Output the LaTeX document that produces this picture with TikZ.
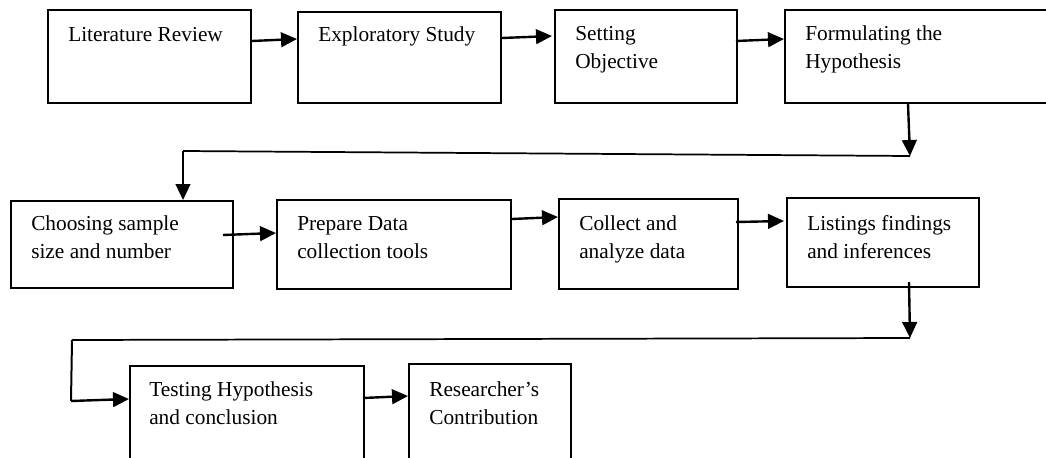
\documentclass[tikz,border=0pt]{standalone}
\usepackage{fontspec}
\setmainfont{Liberation Serif}
\usetikzlibrary{arrows.meta,calc,fit}

\begin{document}
\begin{tikzpicture}[x=0.75pt,y=-0.75pt,
  box/.style={draw,line width=1.5pt,inner sep=0pt,fit={#1}},
  txt/.style={anchor=base west,inner sep=0pt,align=left,
    font=\fontsize{16pt}{21pt}\selectfont},
  arr/.style={line width=1.8pt,-{Triangle[length=12pt,width=11pt]}},
  link/.style={line width=1.3pt}]
\useasboundingbox (0,0) rectangle (1046,457);
\clip (0,0) rectangle (1046,457);

% first row
\node[box={(48,10) (251,103)}]   (b1) {};
\node[box={(298,12) (501,103)}]  (b2) {};
\node[box={(555,10) (737,103)}]  (b3) {};
\node[box={(785,10) (1070,103)}] (b4) {};
% second row
\node[box={(11,201) (233,288)}]  (b5) {};
\node[box={(277,200) (511,289)}] (b6) {};
\node[box={(559,199) (738,289)}] (b7) {};
\node[box={(787,198) (979,287)}] (b8) {};
% third row
\node[box={(130,366) (364,480)}] (b9) {};
\node[box={(409,364) (571,480)}] (b10) {};

% labels (two-line labels sit on the baseline of their second line)
\node[txt] (t1) at ($(b1.north west)+(21,32)$) {Literature Review};
\node[txt] (t2) at ($(b2.north west)+(21,30)$) {Exploratory Study};
\node[txt] (t3) at ($(b3.north west)+(21,59)$) {Setting\\Objective};
\node[txt] (t4) at ($(b4.north west)+(21,59)$) {Formulating the\\Hypothesis};
\node[txt] (t5) at ($(b5.north west)+(21,58)$) {Choosing sample\\size and number};
\node[txt] (t6) at ($(b6.north west)+(21,59)$) {Prepare Data\\collection tools};
\node[txt] (t7) at ($(b7.north west)+(21,60)$) {Collect and\\analyze data};
\node[txt] (t8) at ($(b8.north west)+(21,61)$) {Listings findings\\and inferences};
\node[txt] (t9) at ($(b9.north west)+(20,59)$) {Testing Hypothesis\\and conclusion};
\node[txt] (t10) at ($(b10.north west)+(21,61)$) {Researcher’s\\Contribution};

% first row arrows
\draw[arr] ($(b1.north east)+(0,32)$) -- ($(b2.north west)+(0,28)$);
\draw[arr] ($(b2.north east)+(0,27)$) -- ($(b3.north west)+(-2,27)$);
\draw[arr] ($(b3.north east)+(-2,32)$) -- ($(b4.north west)+(0,30)$);

% turn from first row to second row
\coordinate (r1) at ($(b4.south west)+(126,52)$);
\coordinate (l1) at ($(b5.north west)+(173,-49)$);
\draw[arr] ($(b4.south west)+(124,0)$) -- (r1);
\draw[link] (r1) -- (l1);
\draw[arr] (l1) -- ($(b5.north west)+(173,0)$);

% second row arrows
\draw[arr] ($(b5.north east)+(-11,35)$) -- ($(b6.north west)+(0,34)$);
\draw[arr] ($(b6.north east)+(0,20)$) -- ($(b7.north west)+(0,19)$);
\draw[arr] ($(b7.north east)+(-3,24)$) -- ($(b8.north west)+(-2,24)$);

% turn from second row to third row
\coordinate (r2) at ($(b8.south west)+(124,50)$);
\coordinate (l2) at (72,340);
\coordinate (c2) at (71,401);
\draw[arr] ($(b8.south west)+(123,-6)$) -- (r2);
\draw[link] (r2) -- (l2);
\draw[line width=1.5pt] (l2) -- (c2);
\draw[arr] (c2) -- ($(b9.north west)+(0,34)$);

% third row arrow
\draw[arr] ($(b9.north east)+(-2,33)$) -- ($(b10.north west)+(0,33)$);
\end{tikzpicture}
\end{document}
